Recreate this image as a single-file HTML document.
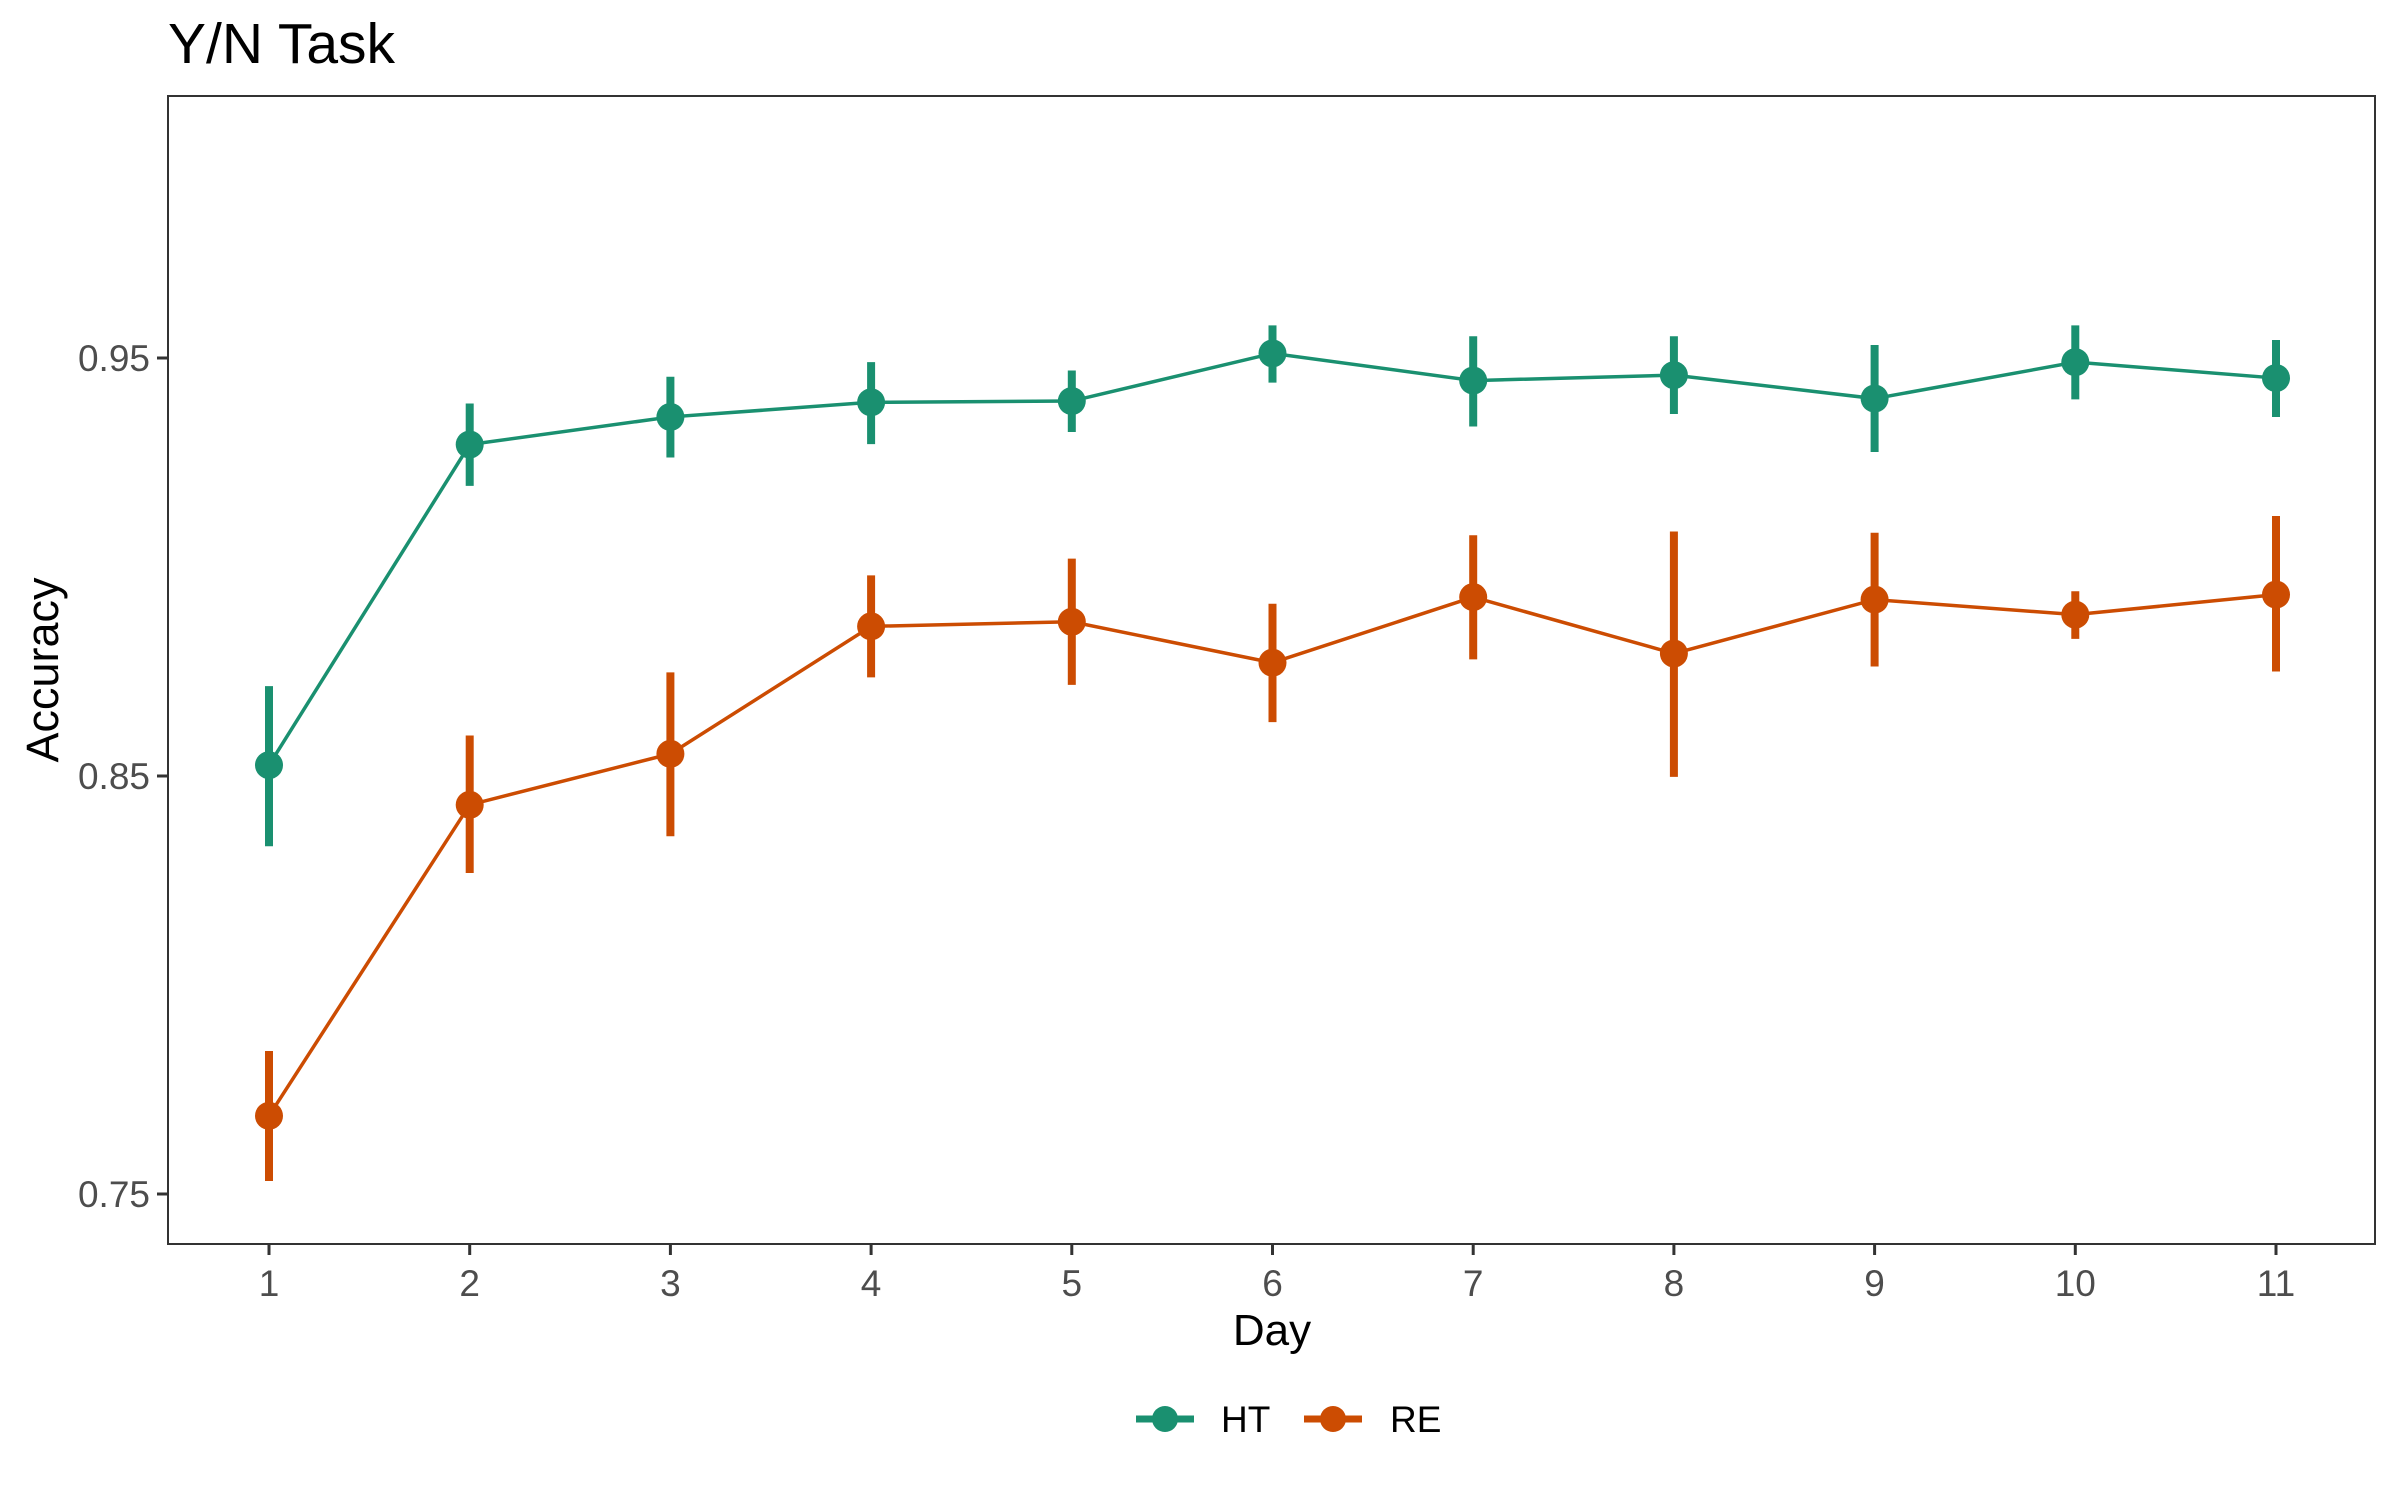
<!DOCTYPE html>
<html><head><meta charset="utf-8">
<style>
html,body{margin:0;padding:0;background:#fff;}
svg{display:block;font-family:"Liberation Sans",Arial,sans-serif;}
</style></head>
<body>
<svg id="chart" width="2400" height="1500" viewBox="0 0 2400 1500" xmlns="http://www.w3.org/2000/svg">
  <rect x="0" y="0" width="2400" height="1500" fill="#ffffff"/>
  <text x="168" y="63" font-size="57" fill="#000">Y/N Task</text>
  <g id="marks"></g>
  <g id="axes"></g>
  <rect x="168" y="96" width="2207" height="1148" fill="none" stroke="#333" stroke-width="2"/>
  <text x="1272" y="1345" font-size="44" text-anchor="middle" fill="#000">Day</text>
  <text transform="translate(58,670) rotate(-90)" font-size="45" text-anchor="middle" fill="#000">Accuracy</text>
  <g>
    <g>
      <line x1="1136" y1="1419" x2="1194" y2="1419" stroke="#1a9070" stroke-width="7"/>
      <circle cx="1165" cy="1419" r="13" fill="#1a9070"/>
      <text x="1221" y="1432" font-size="37" fill="#000">HT</text>
    </g>
    <g>
      <line x1="1304" y1="1419" x2="1362" y2="1419" stroke="#cc4c02" stroke-width="7"/>
      <circle cx="1333" cy="1419" r="13" fill="#cc4c02"/>
      <text x="1390" y="1432" font-size="37" fill="#000">RE</text>
    </g>
  </g>
</svg>
<script>
const days = [1,2,3,4,5,6,7,8,9,10,11];
const htMean = [0.8526,0.9293,0.9359,0.9394,0.9397,0.9511,0.9446,0.9459,0.9403,0.9490,0.9452];
const htLow  = [0.8332,0.9194,0.9262,0.9294,0.9323,0.9441,0.9336,0.9366,0.9275,0.9401,0.9359];
const htHigh = [0.8715,0.9391,0.9455,0.9490,0.9470,0.9578,0.9552,0.9552,0.9531,0.9578,0.9543];
const reMean = [0.7687,0.8431,0.8553,0.8858,0.8869,0.8771,0.8928,0.8793,0.8922,0.8886,0.8934];
const reLow  = [0.7531,0.8268,0.8356,0.8736,0.8718,0.8629,0.8779,0.8498,0.8762,0.8828,0.8750];
const reHigh = [0.7842,0.8597,0.8748,0.8980,0.9020,0.8912,0.9076,0.9085,0.9082,0.8942,0.9122];
const yTicks = [0.75,0.85,0.95];
const yTickLabels = ["0.75","0.85","0.95"];

const NS = "http://www.w3.org/2000/svg";
const X0 = 269, DX = 200.7;
function xScale(d){ return X0 + (d-1)*DX; }
function yScale(v){ return 358 + (0.95 - v)*4180; }
function mk(tag, attrs, parent){
  const e = document.createElementNS(NS, tag);
  for (const k in attrs) e.setAttribute(k, attrs[k]);
  parent.appendChild(e);
  return e;
}
const marks = document.getElementById('marks');
const axes = document.getElementById('axes');

function drawSeries(name, color, mean, low, high){
  const g = mk('g', {}, marks);
  
  
  const pts = days.map((d,i)=> xScale(d)+','+yScale(mean[i])).join(' ');
  const line = mk('polyline', {points: pts, fill:'none', stroke: color, 'stroke-width': 3.5}, g);
  
  
  days.forEach((d,i)=>{
    const eb = mk('line', {x1: xScale(d), x2: xScale(d), y1: yScale(low[i]), y2: yScale(high[i]), stroke: color, 'stroke-width': 8}, g);
    
    
    const c = mk('circle', {cx: xScale(d), cy: yScale(mean[i]), r: 14, fill: color}, g);
    
    
  });
}
drawSeries('ht', '#1a9070', htMean, htLow, htHigh);
drawSeries('re', '#cc4c02', reMean, reLow, reHigh);

yTicks.forEach((v,i)=>{
  const t = mk('line', {x1:157, x2:168, y1:yScale(v), y2:yScale(v), stroke:'#333', 'stroke-width':3}, axes);
  
  
  const l = mk('text', {x:150, y:yScale(v)+13, 'font-size':37, 'text-anchor':'end', fill:'#4d4d4d'}, axes);
  l.textContent = yTickLabels[i];
  
  
});
days.forEach(d=>{
  const t = mk('line', {x1:xScale(d), x2:xScale(d), y1:1244, y2:1255, stroke:'#333', 'stroke-width':3}, axes);
  
  
  const l = mk('text', {x:xScale(d), y:1296, 'font-size':37, 'text-anchor':'middle', fill:'#4d4d4d'}, axes);
  l.textContent = String(d);
  
  
});
</script>
</body></html>
